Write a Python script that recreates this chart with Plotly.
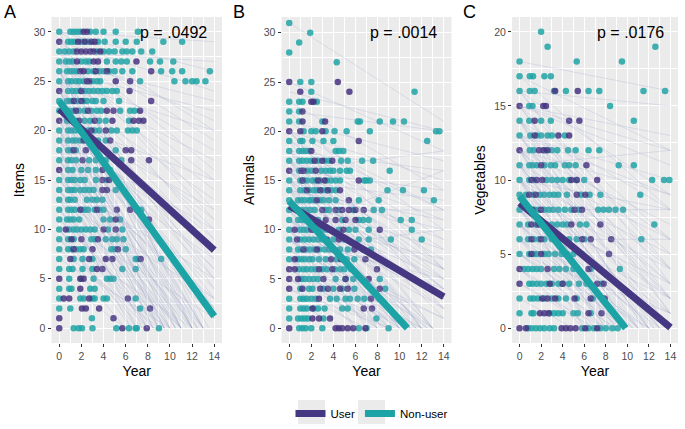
import plotly.graph_objects as go

# ---------------- data ----------------
# Scatter points: {score: [years ...]} per panel and group
A_NON = {
    30: [0, 1.0, 1.3, 1.6, 1.9, 2.8, 3.3, 4.0, 5.1, 7.1],
    29: [0.8, 1.1, 1.4, 2.0, 2.6, 3.5, 4.1, 5.1, 6.0, 7.0, 9.4, 11.1],
    28: [0, 0.5, 0.9, 1.3, 3.4, 4.0, 4.5, 5.0, 5.7, 6.1, 6.6, 7.4, 8.4],
    27: [0, 0.6, 0.9, 1.2, 2.0, 2.4, 2.7, 4.3, 5.1, 5.6, 6.1, 8.2, 9.1, 10.3],
    26: [0, 0.7, 1.0, 1.3, 1.6, 2.6, 3.1, 3.6, 4.0, 4.5, 5.0, 5.7, 6.6, 9.2, 10.2, 11.1, 13.6],
    25: [0, 0.8, 1.1, 1.5, 1.8, 2.2, 3.0, 3.4, 3.7, 7.3, 10.4, 11.4, 12.0, 12.4, 13.2],
    24: [0.8, 1.2, 1.5, 1.9, 2.3, 2.7, 3.1, 3.5, 3.9, 4.3, 4.8, 5.2],
    23: [0, 0.7, 1.0, 1.4, 1.7, 2.2, 2.5, 3.0, 3.3, 4.0, 5.4],
    22: [0, 0.9, 1.3, 1.8, 2.3, 2.9, 3.4, 3.8, 5.5, 6.4, 6.8],
    21: [0.7, 1.1, 1.5, 2.3, 2.8, 3.6, 4.2, 6.3],
    20: [0, 0.8, 1.1, 1.4, 1.8, 2.1, 2.6, 3.2, 3.6, 4.7, 5.2, 6.2, 6.6, 7.0],
    19: [0, 0.8, 1.2, 1.5, 1.9, 2.5, 3.0, 3.5, 4.2],
    18: [0, 0.8, 1.1, 1.5, 3.3, 5.1],
    17: [0, 0.8, 1.1, 1.5, 2.7, 3.3, 4.2, 5.1, 5.6],
    16: [0.8, 1.2, 2.0, 2.6, 3.3, 4.6],
    15: [0, 0.8, 1.1, 1.4, 1.9, 2.3, 3.3, 4.3],
    14: [0, 0.8, 1.1, 1.4, 1.9, 2.3, 2.7, 3.1, 5.1],
    13: [0, 0.8, 1.0, 1.4, 2.5, 3.0, 3.4, 3.9],
    12: [0, 0.8, 1.1, 1.4, 2.0, 2.3, 2.6, 3.2, 3.6, 4.0, 7.4],
    11: [0, 0.7, 1.0, 1.3, 1.8, 4.0, 4.6, 5.5],
    10: [0, 0.9, 1.3, 1.6, 2.0, 2.4, 2.8, 3.2, 4.4, 5.7],
    9: [0, 0.8, 1.3, 2.9, 3.2, 4.2, 4.8, 5.2, 5.8],
    8: [0, 0.8, 1.1, 1.5, 1.9, 2.2, 4.7, 5.0, 6.0],
    7: [0, 1.3, 2.1, 3.0, 6.9, 7.1, 9.2],
    6: [0, 0.9, 1.2, 2.1, 3.0, 5.7, 6.9],
    5: [0.9, 2.0, 3.1, 4.3, 4.6, 4.9],
    4: [0, 0.9, 1.1, 2.8, 3.2],
    3: [0, 1.9, 2.2, 3.0, 3.2, 4.0, 4.3, 6.9],
    2: [0, 1.0, 7.3],
    1: [2.95],
    0: [1.3, 1.75, 2.05, 3.0, 5.15, 6.3, 6.9, 7.0, 9.0],
}
A_USER = {
    30: [2.2, 2.5], 29: [0, 1.7, 2.3, 2.9, 3.2], 28: [1.6, 2.0, 2.4, 2.8, 3.1, 3.7],
    27: [1.6, 3.1, 3.5, 6.97], 26: [1.9, 2.2, 3.3, 4.3, 8.3], 25: [2.5, 2.7, 5.1, 6.4],
    24: [0, 2.0, 6.35], 23: [1.3, 2.0, 8.3], 22: [1.5, 2.6, 4.3, 4.9, 7.3],
    21: [0, 1.8, 3.2, 4.8, 6.7, 7.2, 7.6], 20: [2.9, 4.2], 19: [2.2, 4.6],
    18: [1.3, 2.4, 6.0, 6.5], 17: [2.1, 6.5, 8.1], 16: [0, 3.9], 15: [3.9, 4.5],
    14: [3.9, 4.3], 12: [1.9, 3.4, 5.2, 6.4, 7.0], 11: [5.1, 8.1], 10: [0.6, 4.0, 5.1],
    9: [1.1, 2.0, 3.5], 8: [1.3, 3.0, 5.3], 7: [1.0, 2.7, 4.2, 4.8, 7.35], 6: [3.4, 3.9],
    5: [0, 1.9, 2.2], 4: [1.9], 3: [0.4, 0.9, 2.7, 6.2], 2: [2.05, 2.4, 3.6, 8.2],
    1: [0, 4.9], 0: [0, 5.7, 7.9],
}
B_NON = {
    31: [0], 30: [1.9], 29: [0.9], 28: [0], 27: [4.3], 25: [1.0, 2.0], 24: [2.0, 11.35],
    23: [0, 0.9, 1.2, 2.5], 22: [0, 0.9],
    21: [0, 0.9, 3.0, 6.2, 6.4, 8.2, 9.4, 10.4],
    20: [1.3, 2.0, 2.4, 3.3, 4.1, 5.2, 7.3, 13.3, 13.6],
    19: [0, 1.0, 1.2, 2.1, 3.1, 4.0, 12.5],
    18: [0, 0.9, 1.2, 1.5, 1.8, 4.2, 4.5, 4.9],
    17: [0, 0.9, 1.2, 1.6, 2.0, 2.6, 3.2, 3.6, 4.7, 5.3, 6.6, 7.6],
    16: [0.9, 1.6, 2.0, 2.9, 3.3, 3.7, 4.0, 4.6, 5.2, 5.5, 9.1],
    15: [0, 1.0, 1.3, 1.6, 2.1, 2.4, 2.8, 3.4, 3.8, 4.2, 4.6, 6.8, 7.0, 7.3],
    14: [0, 1.0, 1.4, 1.8, 2.2, 2.5, 3.0, 3.4, 3.8, 4.2, 8.9, 10.3, 12.2],
    13: [0, 0.8, 1.1, 1.4, 1.8, 2.0, 2.3, 2.8, 3.1, 3.6, 4.2, 6.3, 8.1, 13.1],
    12: [0, 0.8, 1.1, 1.5, 1.9, 2.3, 3.3, 3.6, 4.5, 5.8, 7.65, 8.4],
    11: [0, 0.8, 1.1, 1.4, 2.0, 2.6, 4.8, 6.3, 6.7, 7.2, 10.1, 11.1],
    10: [0, 1.0, 1.3, 1.6, 2.2, 2.6, 3.0, 3.4, 3.8, 4.5, 5.4, 6.0, 7.2, 11.1],
    9: [0, 1.0, 1.4, 1.8, 2.2, 2.6, 3.0, 4.0, 5.0, 6.3, 7.2, 9.2, 12.0],
    8: [0, 0.8, 1.1, 1.5, 1.9, 2.3, 2.7, 3.2, 3.6, 4.6, 5.3, 6.7, 7.4],
    7: [0, 0.8, 1.1, 1.4, 1.8, 2.1, 2.7, 3.3, 4.3, 5.2, 5.9],
    6: [0.9, 1.3, 1.6, 2.0, 2.4, 3.0, 3.4, 4.1, 4.6, 5.0, 5.6],
    5: [1.1, 1.4, 1.8, 2.2, 2.6, 4.2, 5.1, 5.8, 8.2],
    4: [1.0, 1.8, 2.1, 3.1, 4.0, 4.8, 5.9, 8.7],
    3: [0, 1.0, 1.3, 1.6, 2.0, 2.4, 3.7, 4.3, 5.1, 5.5, 6.2, 6.8],
    2: [0, 1.0, 1.3, 1.6, 2.2, 2.6, 3.2, 4.8, 5.3],
    1: [0, 0.8, 1.1, 1.4, 1.7, 3.1, 7.9],
    0: [0.9, 1.2, 1.5, 2.0, 3.0, 6.3, 7.0, 9.0],
}
B_USER = {
    25: [0, 4.4], 24: [1.0, 5.45], 23: [2.0, 2.2], 22: [1.2], 21: [1.2, 3.25],
    20: [0, 1.0, 3.0], 19: [6.3], 18: [2.0], 17: [2.3, 3.0, 3.9], 16: [0, 1.1, 1.3, 2.4],
    15: [1.2, 2.6, 3.2, 6.3], 14: [1.6, 2.8, 3.5, 4.6], 13: [2.5, 5.4],
    12: [3.0, 4.2, 4.8, 5.4, 6.0, 6.75], 11: [1.7, 3.3, 4.2, 5.1, 6.0],
    10: [0.5, 2.0, 4.9, 8.2], 9: [0.7, 3.4, 4.5], 8: [1.3, 2.5, 4.0, 5.9],
    7: [0.5, 3.8, 4.7, 6.9], 6: [0, 0.5, 2.7, 3.9, 7.95], 5: [0, 0.8, 3.1, 5.1, 7.2],
    4: [0, 1.2, 2.8, 3.5, 4.6, 5.3, 8.2], 3: [2.7, 7.4, 8.2], 2: [2.1, 6.75, 7.5],
    1: [2.1, 2.7, 3.7], 0: [0, 4.2, 4.5, 4.8, 5.3, 5.8, 6.9],
}
C_NON = {
    20: [2.0], 19: [2.6, 12.6], 18: [0, 5.3, 9.5], 17: [0, 0.95, 1.25, 2.3, 2.9],
    16: [0, 0.95, 1.4, 3.2, 4.3, 6.4, 7.4, 11.5, 13.5], 15: [0.9, 1.2, 8.4],
    14: [0, 0.9, 2.0, 2.9, 10.6], 13: [0, 1.0, 1.6, 2.0, 2.6, 3.0, 4.2],
    12: [0.95, 1.3, 2.4, 3.0, 3.5, 4.5, 5.2, 6.4, 7.4],
    11: [0, 0.9, 1.2, 1.6, 2.3, 2.9, 3.3, 4.2, 4.6, 5.2, 9.2, 10.6],
    10: [0, 0.9, 1.3, 2.5, 3.0, 3.5, 4.0, 4.6, 5.3, 6.0, 12.3, 13.4, 13.9],
    9: [0, 0.6, 1.3, 1.9, 2.3, 2.8, 3.2, 3.6, 4.4, 5.7, 6.5, 7.5, 11.2],
    8: [0, 1.0, 1.4, 1.8, 2.3, 2.7, 3.1, 3.6, 4.2, 4.8, 5.5, 7.3, 7.8, 8.3, 8.9, 9.6],
    7: [0, 0.8, 1.5, 1.9, 2.5, 3.0, 3.5, 4.0, 4.4, 5.6, 6.2, 12.5],
    6: [0, 0.8, 1.3, 1.8, 2.3, 3.0, 3.5, 4.0, 4.6, 5.3, 6.0, 11.3],
    5: [0, 0.9, 1.3, 1.6, 2.3, 2.7, 3.3, 3.9, 4.4, 5.0, 5.8],
    4: [0.4, 0.8, 1.2, 1.6, 2.0, 3.2, 3.7, 4.3, 5.0, 6.6, 9.3],
    3: [0.9, 1.2, 1.6, 2.0, 2.5, 3.0, 3.6, 4.0, 4.6, 5.5, 6.2, 7.6],
    2: [0, 1.0, 1.3, 1.7, 2.3, 3.0, 3.6, 4.3, 5.3, 6.8],
    1: [0, 1.1, 1.3, 2.8, 3.2, 3.6, 4.0, 5.0, 5.4, 6.6],
    0: [0.8, 1.1, 1.5, 1.9, 2.3, 2.8, 3.2, 5.8, 6.4, 6.9, 7.5, 8.0, 8.6, 9.1],
}
C_USER = {
    16: [3.3, 5.4], 15: [0, 2.2, 2.45], 14: [1.4, 4.6, 5.55], 13: [1.4, 3.6, 4.6],
    12: [0, 1.8, 2.2, 2.6], 11: [2.0, 6.2], 10: [1.1, 1.6, 2.1, 4.8, 5.3, 7.2],
    9: [0.9, 1.5, 5.3, 6.1], 8: [1.2, 2.0, 5.1, 5.8], 7: [1.1, 1.7, 4.8, 7.5],
    6: [1.1, 2.0, 5.8, 6.6, 8.5], 5: [1.1, 2.0, 4.3, 8.3], 4: [0, 2.6, 6.4],
    3: [0, 2.8, 4.0, 7.2, 7.8], 2: [2.1, 2.6, 3.3, 5.1, 6.6, 7.9],
    1: [1.9, 2.3, 2.7, 6.4, 7.6], 0: [0, 0.6, 3.9, 4.3, 4.7, 5.2, 6.1, 7.2],
}

# Individual trajectories: start value at year 0, end year, end value
A_TRAJ_Y0 = [30, 30, 29, 29, 28, 28, 27, 27, 26, 26, 26, 25, 25, 25, 24, 24, 24, 23, 23, 23, 22, 22, 22,
             21, 21, 21, 20, 20, 20, 19, 19, 18, 18, 18, 17, 17, 16, 16, 15, 15, 14, 14, 13, 13, 12, 11,
             10, 9, 8, 7, 5, 30, 28,
             29, 27, 26, 25, 24, 23, 22, 21, 20, 19, 18, 17, 16, 15, 14, 13, 12, 11, 10, 9, 27, 25, 23,
             21, 19,
             30, 29, 28, 27, 26, 25, 24, 23, 22, 21, 20, 19, 18, 17, 16, 15, 14, 13, 12, 11, 10, 9, 8,
             28, 26, 24, 22, 20, 18, 16]
A_TRAJ_X1 = [14, 14, 14, 14, 14, 14, 14, 14, 14, 14, 14, 14, 14, 13, 14, 14, 12, 14, 14, 10.5, 14, 14, 11,
             14, 14, 9.5, 14, 12.5, 8.5, 14, 10, 14, 11, 7.5, 14, 9, 13, 7, 14, 10, 12, 6.5, 14, 8, 11, 14,
             7, 12, 6, 10, 6, 14, 14,
             14, 14, 12, 14, 11, 14, 9.5, 12, 10.5, 13, 9.5, 12, 10, 12.5, 9, 11, 8, 9.5, 8.5, 7.5, 14, 14,
             13, 14, 14,
             13, 12, 13.5, 11, 12.5, 10, 13, 9, 12, 11, 9, 11.5, 8.5, 10.5, 8, 11, 9.5, 7, 8.5, 10, 6.5, 8, 9,
             14, 14, 14, 14, 14, 14, 14]
A_TRAJ_Y1 = [26, 20, 24, 16, 21, 12, 18, 9, 22, 14, 5, 17, 10, 0, 13, 7, 0, 11, 3, 0, 9, 1, 0,
             12, 6, 0, 8, 0, 0, 4, 0, 7, 0, 0, 2, 0, 0, 0, 5, 0, 0, 0, 3, 0, 0, 1,
             0, 0, 0, 0, 0, 29, 27,
             19, 15, 0, 8, 0, 6, 0, 0, 0, 0, 0, 0, 0, 0, 0, 0, 0, 0, 0, 0, 23, 20, 0, 15, 10,
             0, 0, 0, 0, 0, 0, 0, 0, 0, 0, 0, 0, 0, 0, 0, 0, 0, 0, 0, 0, 0, 0, 0,
             11, 4, 2, 5, 2, 1, 3]
B_TRAJ_Y0 = [31, 25, 23, 22, 21, 20, 20, 19, 18, 18, 17, 17, 17, 16, 16, 16, 15, 15, 15, 14, 14, 14, 13,
             13, 13, 12, 12, 12, 11, 11, 10, 10, 10, 9, 9, 8, 8, 7, 7, 6, 5, 4, 3, 12, 10, 8, 15,
             20, 19, 18, 17, 16, 15, 14, 13, 12, 11, 10, 9, 8, 7, 6, 5, 14, 13, 11, 9, 16, 18, 21, 24,
             22, 20, 18, 17, 16, 15, 14, 13, 12, 11, 10, 9, 8, 7, 6, 5, 4, 19, 17, 15, 13, 11, 9,
             14, 16, 20]
B_TRAJ_X1 = [14, 14, 14, 14, 14, 14, 14, 14, 14, 12, 14, 14, 10, 14, 14, 11.5, 14, 14, 9, 14, 13, 8, 14,
             14, 10, 14, 12, 7, 14, 9, 14, 11, 6, 13, 8, 14, 10, 12, 6, 9, 11, 7, 5, 14, 14, 14, 14,
             14, 13, 14, 12, 14, 10.5, 14, 11.5, 9.5, 12.5, 8.5, 10.5, 12, 8, 11, 9, 14, 14, 14, 14,
             14, 14, 14, 14,
             14, 14, 13, 14, 12, 13, 11, 12.5, 10, 13, 9, 11.5, 7.5, 10, 8, 6.5, 9, 14, 14, 14, 14, 14, 14,
             14, 14, 14]
B_TRAJ_Y1 = [21, 18, 14, 20, 10, 15, 6, 12, 8, 0, 11, 4, 0, 7, 2, 0, 9, 5, 0, 6, 0, 0, 8,
             3, 0, 5, 0, 0, 2, 0, 4, 0, 0, 0, 0, 1, 0, 0, 0, 0, 0, 0, 0, 12, 16, 10, 13,
             3, 0, 5, 0, 4, 0, 3, 0, 0, 0, 0, 0, 0, 0, 0, 0, 10, 6, 7, 5, 18, 16, 17, 20,
             6, 2, 0, 1, 0, 0, 0, 0, 0, 0, 0, 0, 0, 0, 0, 0, 0, 9, 6, 4, 2, 3, 1,
             11, 14, 12]
C_TRAJ_Y0 = [18, 17, 16, 16, 15, 15, 14, 14, 13, 13, 13, 12, 12, 12, 11, 11, 11, 10, 10, 10, 10, 9, 9, 9,
             9, 8, 8, 8, 7, 7, 7, 6, 6, 6, 5, 5, 4, 4, 3, 2, 8, 6, 11,
             17, 16, 15, 14, 14, 13, 12, 12, 11, 10, 10, 9, 9, 8, 8, 7, 7, 6, 5, 4, 10, 13, 15, 12,
             16, 15, 14, 13, 12, 11, 10, 9, 8, 7, 6, 5, 4, 3, 14, 12, 10, 8, 11, 9, 13, 15, 7, 5]
C_TRAJ_X1 = [14, 14, 14, 14, 14, 14, 14, 14, 14, 14, 12, 14, 10, 14, 14, 13, 8.5, 14, 14, 11, 7.5, 14, 12,
             9, 6.5, 14, 11, 8, 13, 9.5, 6, 14, 10, 7, 12, 8, 9, 6, 7, 5, 14, 14, 14,
             14, 14, 14, 14, 11.5, 14, 14, 11, 12, 13, 9.5, 11, 8, 12.5, 9.5, 11, 8.5, 12, 10, 8,
             14, 14, 14, 14,
             14, 14, 13, 13.5, 12.5, 12, 10.5, 10, 9, 10.5, 8.5, 9.5, 6.5, 8, 14, 14, 14, 14, 14, 14,
             14, 14, 14, 14]
C_TRAJ_Y1 = [16, 12, 9, 15, 6, 11, 4, 8, 2, 6, 0, 4, 0, 9, 3, 0, 0, 5, 1, 0, 0, 2, 0,
             0, 0, 3, 0, 0, 0, 0, 0, 1, 0, 0, 0, 0, 0, 0, 0, 0, 8, 6, 12,
             8, 4, 2, 1, 0, 0, 2, 0, 0, 0, 0, 0, 0, 0, 0, 0, 0, 0, 0, 0, 8, 10, 13, 7,
             3, 1, 0, 0, 0, 0, 0, 0, 0, 0, 0, 0, 0, 0, 5, 3, 2, 1, 6, 4, 9, 12, 2, 1]

# Group fits per panel (A, B, C): value at year 0, end year, end value
FIT_USER_Y0 = [22.2, 12.45, 8.45]
FIT_USER_X1 = [14, 14, 14]
FIT_USER_Y1 = [7.9, 3.2, 0.05]
FIT_NON_Y0 = [23.0, 12.9, 8.9]
FIT_NON_X1 = [14, 10.7, 9.85]
FIT_NON_Y1 = [1.2, 0, 0]

PANEL_LABELS = ["A", "B", "C"]
Y_TITLES = ["Items", "Animals", "Vegetables"]
P_TEXT = ["p = .0492", "p = .0014", "p = .0176"]
X_TICKS = [0, 2, 4, 6, 8, 10, 12, 14]
GROUP_NAMES = ["User", "Non-user"]

# ---------------- styling ----------------
PURPLE = "#453781"
TEAL = "#1BA3A5"
PT_PURPLE = "rgba(70,52,128,0.85)"
PT_TEAL = "rgba(31,164,166,0.85)"
TRAJ_COLOR = "rgba(140,150,195,0.28)"
FONT = "Liberation Sans, Arial, sans-serif"
W, H = 685, 429

X_DOMAINS = [[51.5 / W, 222 / W], [281.5 / W, 451.5 / W], [512 / W, 678 / W]]
Y_DOMAIN = [1 - 343 / H, 1 - 17 / H]
Y_RANGES = [[-1.5, 31.5], [-1.5, 31.6], [-1.0, 21.0]]
Y_DTICK = [5, 5, 5]

panels = [
    (A_NON, A_USER, A_TRAJ_Y0, A_TRAJ_X1, A_TRAJ_Y1),
    (B_NON, B_USER, B_TRAJ_Y0, B_TRAJ_X1, B_TRAJ_Y1),
    (C_NON, C_USER, C_TRAJ_Y0, C_TRAJ_X1, C_TRAJ_Y1),
]


def flatten(rows):
    xs, ys = [], []
    for yv, xlist in rows.items():
        for xv in xlist:
            xs.append(xv)
            ys.append(yv)
    return xs, ys


fig = go.Figure()

for i, (non, user, ty0, tx1, ty1) in enumerate(panels):
    xa = "x" if i == 0 else f"x{i+1}"
    ya = "y" if i == 0 else f"y{i+1}"
    # points
    for rows, col in ((non, PT_TEAL), (user, PT_PURPLE)):
        xs, ys = flatten(rows)
        fig.add_trace(go.Scatter(x=xs, y=ys, mode="markers", xaxis=xa, yaxis=ya,
                                 marker=dict(size=6.5, color=col, line=dict(width=0)),
                                 showlegend=False, hoverinfo="skip"))
    # trajectories
    lx, ly = [], []
    for a, b, c in zip(ty0, tx1, ty1):
        lx += [0, b, None]
        ly += [a, c, None]
    fig.add_trace(go.Scatter(x=lx, y=ly, mode="lines", xaxis=xa, yaxis=ya,
                             line=dict(color=TRAJ_COLOR, width=0.8),
                             showlegend=False, hoverinfo="skip"))
    # group fits
    fig.add_trace(go.Scatter(x=[0, FIT_USER_X1[i]], y=[FIT_USER_Y0[i], FIT_USER_Y1[i]],
                             mode="lines", xaxis=xa, yaxis=ya, name=GROUP_NAMES[0],
                             line=dict(color=PURPLE, width=7), showlegend=(i == 0),
                             legendrank=1))
    fig.add_trace(go.Scatter(x=[0, FIT_NON_X1[i]], y=[FIT_NON_Y0[i], FIT_NON_Y1[i]],
                             mode="lines", xaxis=xa, yaxis=ya, name=GROUP_NAMES[1],
                             line=dict(color=TEAL, width=7), showlegend=(i == 0),
                             legendrank=2))

LEG_TOP = 400
LEG_X = 290.5
layout = dict(
    width=W, height=H,
    margin=dict(l=0, r=0, t=0, b=0),
    paper_bgcolor="white",
    plot_bgcolor="#EBEBEB",
    font=dict(family=FONT, color="#000000"),
    showlegend=True,
    legend=dict(orientation="h", x=LEG_X / W, xanchor="left", y=1 - (LEG_TOP - 1) / H,
                yanchor="top", font=dict(size=11.5, family=FONT, color="#000000"),
                itemwidth=30, bgcolor="rgba(0,0,0,0)", traceorder="normal"),
)

annotations = []
shapes = []
for i in range(3):
    sfx = "" if i == 0 else str(i + 1)
    layout[f"xaxis{sfx}"] = dict(
        domain=X_DOMAINS[i], anchor=f"y{sfx}", range=[-0.7, 14.7],
        tickvals=X_TICKS, ticks="outside", ticklen=3, tickwidth=1, tickcolor="#333333",
        showgrid=True, gridcolor="white", gridwidth=1.1, zeroline=False, showline=False,
        minor=dict(dtick=1, tick0=0, showgrid=True, gridcolor="white", gridwidth=0.5, ticks=""),
        tickfont=dict(size=10.5, color="#4D4D4D", family=FONT),
        title=dict(text="Year", font=dict(size=14, color="#000000", family=FONT), standoff=5),
    )
    layout[f"yaxis{sfx}"] = dict(
        domain=Y_DOMAIN, anchor=f"x{sfx}", range=Y_RANGES[i], dtick=Y_DTICK[i], tick0=0,
        ticks="outside", ticklen=3, tickwidth=1, tickcolor="#333333",
        showgrid=True, gridcolor="white", gridwidth=1.1, zeroline=False, showline=False,
        minor=dict(dtick=Y_DTICK[i] / 2, tick0=0, showgrid=True, gridcolor="white",
                   gridwidth=0.5, ticks=""),
        tickfont=dict(size=10.5, color="#4D4D4D", family=FONT),
        title=dict(text=Y_TITLES[i], font=dict(size=14, color="#000000", family=FONT), standoff=5),
    )
    annotations.append(dict(text=P_TEXT[i], xref=f"x{sfx} domain", yref=f"y{sfx} domain",
                            x=0.925, y=0.952, xanchor="right", yanchor="middle",
                            showarrow=False, font=dict(size=16, color="#000000", family=FONT)))
    annotations.append(dict(text=PANEL_LABELS[i], xref="paper", yref="paper",
                            x=[2, 231, 461][i] / W, y=1 - 11.5 / H, xanchor="left",
                            yanchor="middle", showarrow=False,
                            font=dict(size=18, color="#000000", family=FONT)))

# grey legend key backgrounds (ggplot style), centred on plotly's legend symbols
for cx in (LEG_X + 21, LEG_X + 81):
    shapes.append(dict(type="rect", xref="paper", yref="paper",
                       x0=(cx - 13.5) / W, x1=(cx + 13.5) / W,
                       y0=1 - (LEG_TOP + 24) / H, y1=1 - LEG_TOP / H,
                       fillcolor="#EBEBEB", line=dict(width=0), layer="below"))

layout["annotations"] = annotations
layout["shapes"] = shapes
fig.update_layout(**layout)
fig.write_html("out.html", config={"displayModeBar": False},
               post_script="document.body.style.margin='0px';")
